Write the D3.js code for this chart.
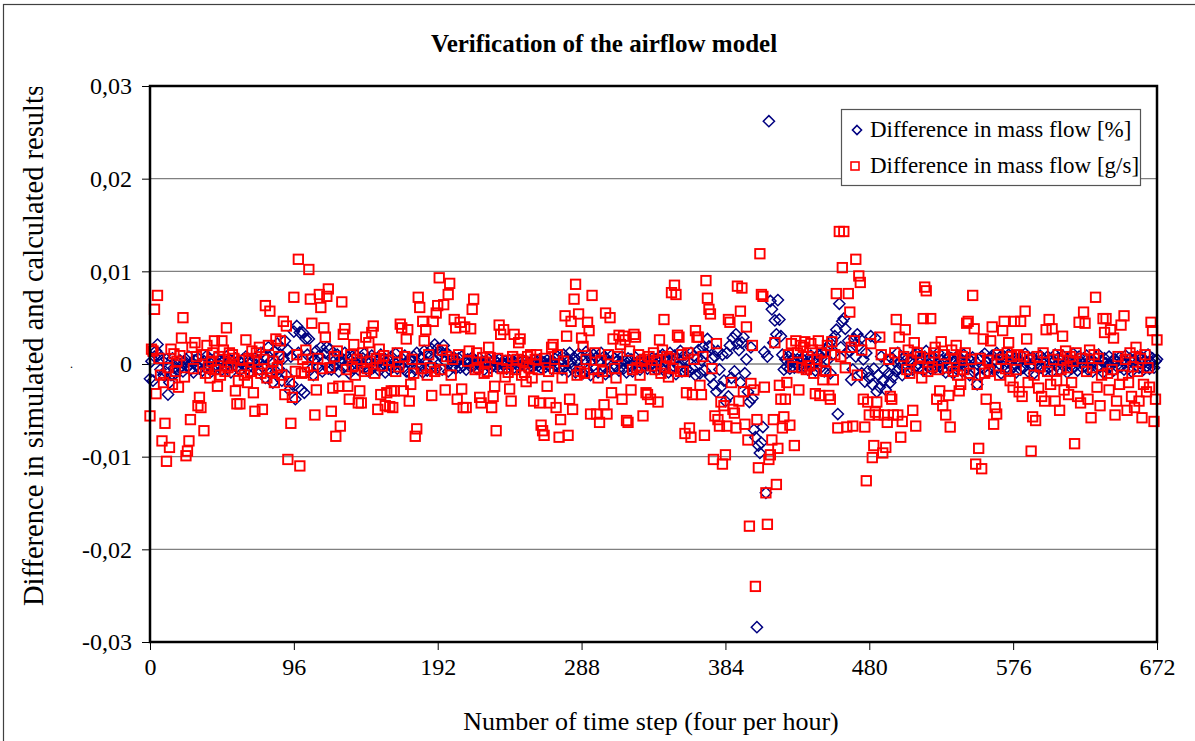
<!DOCTYPE html>
<html>
<head>
<meta charset="utf-8">
<script src="https://cdn.jsdelivr.net/npm/d3@7"></script>
<style>
    body { margin: 0; background: #fff; }
    text { font-family: "Liberation Serif", "Times New Roman", serif; fill: #000; }
</style>
</head>
<body>
<script>

// Värden avlästa ur bilden, i enheter av 0,0001 (ett värde per tidssteg 0..672)
const unit = 0.0001;

const diffPercent = [
    -16, 3, -18, 8, 14, 21, 10, -6, 4, -12, -8, 5, -33, -20, -12, 6, -4, -10, 2, -6, 4, -2, -8, 3,
    5, -3, 8, -6, 2, -9, 4, -2, 6, -5, 1, -7, 3, -4, 9, -1, 5, -8, 2, -3, 7, -5, 0, 4,
    -6, 3, -2, 8, -4, 5, -9, 2, -1, 6, -3, 4, -7, 1, 5, -2, 8, -5, 3, -8, 2, -4, 6, -1,
    4, -6, 12, -3, 8, -15, 6, 18, -10, 3, -20, 14, -8, 22, -5, 10, -18, 6, 25, -12, 15, -28, 8, -22,
    35, -38, 41, 12, 34, -28, 34, -31, 27, 10, 27, -6, 8, -12, 5, 14, -4, 9, 18, -8, 3, 12, 18, -5,
    16, -6, 8, -3, 5, 10, -8, 2, 6, -4, 12, -2, 7, -10, 3, 8, -5, 1, 9, -6, 4, -2, 6, 11,
    -3, 5, -8, 2, 9, -4, 6, -1, 3, -7, 10, -2, 5, -9, 1, 4, -6, 8, -3, 2, 11, -5, 3, -1,
    6, -4, 9, -8, 2, 5, -11, 3, 8, -6, 12, 1, -4, 7, -9, 14, 3, -7, 10, -2, 16, 6, 21, -5,
    17, 10, 14, -6, 20, 3, 12, -8, 9, 4, -3, 7, -5, 2, 6, -4, 8, -2, 3, -6, 5, 1, -3, 7,
    -2, 4, -5, 2, 6, -3, 1, -6, 3, -1, 5, -4, 2, -2, 4, -3, 1, 5, -4, 2, -1, 3, -5, 1,
    4, -2, 3, -4, 1, 5, -3, 2, -1, 4, -2, 3, -5, 1, 2, -3, 4, -1, 3, -2, 5, -4, 1, 2,
    -3, 4, -1, 2, -5, 3, 6, -2, 8, -4, 3, -6, 10, -3, 5, -8, 12, 2, -5, 7, -9, 4, 11, -6,
    8, -10, 5, 13, -7, 9, -12, 4, 10, -5, 7, -9, 3, 12, -6, 8, -11, 5, 2, -8, 9, -4, 6, -3,
    4, -7, 2, 8, -5, 3, -9, 6, -2, 5, -8, 1, 7, -4, 3, -6, 2, 5, -3, 1, -5, 4, -2, 6,
    -3, 5, -6, 2, 8, -4, 10, -7, 3, 6, -9, 12, -5, 4, 9, -11, 6, -3, 14, -8, 5, 10, -6, 3,
    -8, 12, -5, 9, -12, 6, 15, -10, 4, 18, -7, 11, 27, 19, -14, 6, -22, 8, -30, 14, -6, -25, 10, -18,
    -40, 12, -35, 20, -15, 28, -8, 32, 22, 15, -20, 23, 29, -10, 5, -30, -41, 18, -37, -71, -79, -284, -88, -96,
    -85, -68, 13, -139, 8, 262, 68, 59, 23, 47, 32, 69, 48, 30, 10, -6, 5, -3, 8, -5, 3, 6, -4, 2,
    5, -3, 2, 6, -4, 8, 1, -6, 4, 9, -2, 5, -7, 3, 10, -5, 6, 12, -8, 15, 4, 20, -10, 25,
    11, 30, 37, -54, 65, 18, 46, 49, 38, 12, 25, 14, -17, -6, 27, 8, 32, 20, 27, -10, 5, -19, 12, -8,
    -15, 30, -22, -5, 28, -30, -12, -25, 8, -18, -6, -28, 4, -10, -20, 6, -14, 3, -8, 12, -5, 2, -12, 7,
    -3, 5, -8, 4, 2, -6, 10, -2, 11, -4, 6, 3, -7, 8, 14, -3, 5, -5, 2, 7, -4, 1, 12, -2,
    4, -6, 2, -9, 5, 8, -3, 6, -10, 3, -5, 9, -2, 4, -8, 10, 2, -4, 6, -12, 3, 7, -9, -6,
    -22, 5, -13, 8, -5, 11, 2, -8, 6, -3, 9, -6, 4, 12, -4, 7, -10, 3, 8, -5, 2, 10, -7, 4,
    -3, 6, -9, 5, 2, -6, 8, -4, 11, 3, -8, 5, -2, 7, -10, 4, 1, -5, 9, -3, 6, -7, 2, 8,
    -4, 5, -8, 3, 10, -2, 6, -6, 4, 9, -3, 2, -9, 7, 1, -5, 11, -3, 4, -7, 8, 2, -4, 6,
    -2, 9, -6, 3, 5, -8, 2, 7, -4, 10, -3, 4, -9, 6, 1, -5, 8, -2, 3, -7, 5, 2, -4, 7,
    -3, 4, -6, 9, 2, -5, 6, -8, 3, 5, -2, 8, -4, 1, 7, -6, 3, -3, 10, -5, 2, 6, -4, 3,
    5
];

const diffGs = [
    -56, 16, 14, 59, -32, 74, 6, -12, -83, -20, -64, -105, -4, -90, 16, -22, 11, -8, 3, -25, 9, 28, 50, -14,
    -99, -94, -83, -60, 18, -5, 23, 8, -45, -36, -47, 10, -72, -10, 20, -3, -15, 3, 12, 25, -6, -24, 8, -12,
    25, 15, -8, 39, -4, 12, -2, 10, 6, -29, -43, -18, -43, -5, 4, -12, 26, -20, 6, -8, 14, -31, -51, 12,
    -6, 18, -10, -49, 5, 63, -15, 20, 57, -8, 3, -20, 27, -4, 8, 25, -12, 46, -33, 41, -103, -19, -64, -36,
    72, -8, 10, 113, -110, -10, 5, -9, 15, -3, 102, 70, 44, -12, -55, -28, 6, 75, 61, -5, 39, 29, 73, 81,
    -4, -51, -26, 8, -78, 14, -24, -67, 67, 32, 38, -6, -24, -38, 10, -3, 21, -12, 5, -42, -29, -42, 12, -8,
    29, -5, 23, 3, 34, 41, -10, 6, -49, 16, -33, -2, 9, -45, -31, 4, -46, -29, -47, -29, -8, 12, -3, 43,
    39, -29, 8, 27, 37, -40, -22, 5, -10, -78, -70, 72, 61, -5, 46, 25, 37, -12, 10, -4, -34, 46, -8, 55,
    63, 93, -6, 15, 64, -28, 8, 75, 87, -12, 5, 48, 39, -38, 10, 45, -27, -47, 40, -47, 3, 14, 38, 59,
    70, -6, 12, -4, -36, -42, 7, -10, 2, -8, 18, 7, -47, -35, -24, -72, 6, 42, 32, -5, 37, -14, 4, -9,
    -27, -40, 8, 32, -6, 5, 23, 27, -12, 3, -9, -19, 8, -4, 10, -15, -40, 5, 10, -6, -42, -66, -72, -77,
    6, -24, -8, -42, 18, 21, -5, -47, 10, -79, -60, -15, 3, 52, 30, -77, -38, 46, -49, 70, 86, -12, 54, -8,
    28, 19, -10, 5, 45, 36, -54, 74, -6, 12, -54, -15, -63, 4, -8, -44, 55, -54, 10, 50, -31, 27, -5, -15,
    8, 31, 21, -38, 30, 26, -61, -63, 14, -28, -6, 32, 29, -4, 10, -12, 3, -56, 5, -31, -33, 8, -38, -2,
    12, -6, 4, -41, 26, -10, 15, 48, -3, 8, -14, 6, 77, -5, 85, 75, 31, 29, -8, 10, -8, -75, -31, 12,
    -69, -79, -33, 5, 36, 29, 29, -23, -33, 8, -77, 90, 71, 59, 54, -5, -103, -56, 22, -60, -67, -41, -108, -45,
    -98, -67, 48, 45, -20, -49, -53, -69, 84, -40, 57, 82, -30, -65, 40, -82, -175, -21, 20, -28, -240, -60, -112, 119,
    75, 73, -25, -139, -173, -103, -98, -82, -60, 23, -130, -91, -23, -38, -69, -57, -38, -20, 10, -66, 22, -3, -88, 25,
    12, -28, 20, -4, 18, 24, -6, 8, -2, 22, 15, -10, -32, 5, 25, -34, 12, -17, 3, -8, 20, -34, -38, 24,
    -17, 10, 76, -69, 143, 8, 104, 143, -4, -68, 76, 56, 18, -67, 25, 113, -12, 95, 88, 15, -38, -68, -126, -41,
    -55, 22, -101, -88, -52, -41, -55, 29, 10, -96, -55, -90, -63, 5, -35, -38, -55, 12, 48, -55, 29, -79, -62, 8,
    37, -6, 15, -10, 4, -50, 23, -67, 12, -4, 8, -15, 49, 83, 79, -8, 6, 49, -3, 12, 18, -38, -6, -29,
    24, -45, 10, -55, -4, -34, -68, 15, -8, 6, 20, -12, -29, -22, 8, -6, 12, 44, 46, -10, 5, 74, 38, -108,
    -22, -91, 6, -113, 27, -10, -38, 4, -8, 25, 40, -65, -47, -54, 10, -12, 5, 36, 46, -5, 12, 23, -18, 8,
    -25, 46, -6, 10, -30, 46, -35, 8, 57, 27, -20, 5, -94, -57, -12, -61, 8, -26, -3, -35, 12, -40, 37, -8,
    48, -22, 38, 5, -40, -18, 10, -50, -6, 30, -28, 14, -4, -33, 8, -20, 3, -86, 12, -35, 45, -42, 6, 56,
    44, -8, -38, 15, -58, -4, 10, 72, -25, 6, -45, -12, 49, 34, 49, -10, -28, 37, -6, 28, -55, -40, 8, -22,
    42, -12, 52, 5, -50, -20, 12, -35, -3, -47, 18, -8, -40, 6, -58, -22, 10, -30, -4, -25, 45, 36, -62, -38,
    26
];

const yTicks = [0.03, 0.02, 0.01, 0, -0.01, -0.02, -0.03];
const yTickLabels = ["0,03", "0,02", "0,01", "0", "-0,01", "-0,02", "-0,03"];
const xTicks = [0, 96, 192, 288, 384, 480, 576, 672];
const seriesNames = ["Difference in mass flow [%]", "Difference in mass flow [g/s]"];

const width = 1195, height = 741;
const plot = {left: 150, right: 1157, top: 86, bottom: 642};
const serif = '"Liberation Serif", "Times New Roman", serif';

const svg = d3.select("body").append("svg")
    .attr("width", width)
    .attr("height", height);

// yttre ram
svg.append("rect")
    .attr("x", 3.5).attr("y", 4.5)
    .attr("width", 1300).attr("height", 900)
    .attr("fill", "#fff")
    .attr("stroke", "#404040")
    .attr("stroke-width", 1.2);

const x = d3.scaleLinear().domain([0, 672]).range([plot.left, plot.right]);
const y = d3.scaleLinear().domain([-0.03, 0.03]).range([plot.bottom, plot.top]);

// rutnät
svg.append("g")
    .selectAll("line")
    .data(yTicks.slice(1, -1))
    .enter()
    .append("line")
        .attr("x1", plot.left).attr("x2", plot.right)
        .attr("y1", d => y(d)).attr("y2", d => y(d))
        .attr("stroke", "#808080")
        .attr("stroke-width", 1.3);

// axlar
const yAxis = svg.append("g")
    .attr("transform", `translate(${plot.left},0)`)
    .call(d3.axisLeft(y)
        .tickValues(yTicks)
        .tickFormat((d, i) => yTickLabels[i])
        .tickSize(8)
        .tickPadding(10));

const xAxis = svg.append("g")
    .attr("transform", `translate(0,${plot.bottom})`)
    .call(d3.axisBottom(x)
        .tickValues(xTicks)
        .tickSize(8)
        .tickPadding(8));

[yAxis, xAxis].forEach(a => {
    a.select(".domain").remove();
    a.selectAll("line").attr("stroke", "#000").attr("stroke-width", 1);
    a.selectAll("text")
        .style("font-family", serif)
        .style("font-size", "24px")
        .attr("fill", "#000");
});

// punkter, först blå romber, sedan röda kvadrater ovanpå
svg.append("g")
    .selectAll("path")
    .data(diffPercent)
    .enter()
    .append("path")
        .attr("d", "M0,-5.6L5.6,0L0,5.6L-5.6,0Z")
        .attr("transform", (d, i) => `translate(${x(i)},${y(d * unit)})`)
        .attr("fill", "none")
        .attr("stroke", "#000080")
        .attr("stroke-width", 1.5);

svg.append("g")
    .selectAll("rect")
    .data(diffGs)
    .enter()
    .append("rect")
        .attr("x", (d, i) => x(i) - 4.7)
        .attr("y", d => y(d * unit) - 4.7)
        .attr("width", 9.4)
        .attr("height", 9.4)
        .attr("fill", "none")
        .attr("stroke", "#ff0000")
        .attr("stroke-width", 1.9);

// ram runt diagramytan
svg.append("rect")
    .attr("x", plot.left).attr("y", plot.top)
    .attr("width", plot.right - plot.left)
    .attr("height", plot.bottom - plot.top)
    .attr("fill", "none")
    .attr("stroke", "#000")
    .attr("stroke-width", 2.5);

// titel och axeltexter
svg.append("text")
    .attr("x", 604).attr("y", 52)
    .attr("text-anchor", "middle")
    .style("font-size", "25px")
    .style("font-weight", "bold")
    .text("Verification of the airflow model");

svg.append("text")
    .attr("x", 651).attr("y", 730)
    .attr("text-anchor", "middle")
    .style("font-size", "26px")
    .text("Number of time step (four per hour)");

// y-etiketten är avklippt upptill i originalet
svg.append("clipPath")
    .attr("id", "ylabelclip")
    .append("rect")
        .attr("x", 0).attr("y", 87)
        .attr("width", 70).attr("height", 600);

svg.append("g")
    .attr("clip-path", "url(#ylabelclip)")
    .append("text")
        .attr("transform", "translate(43,606) rotate(-90)")
        .attr("text-anchor", "start")
        .style("font-size", "28.5px")
        .text("Difference in simulated and calculated results");

svg.append("text")
    .attr("x", 70).attr("y", 368)
    .style("font-size", "12px")
    .text(".");

// förklaring
const legend = svg.append("g");

legend.append("rect")
    .attr("x", 841.5).attr("y", 109.5)
    .attr("width", 299).attr("height", 76)
    .attr("fill", "#fff")
    .attr("stroke", "#555")
    .attr("stroke-width", 1.2);

legend.append("path")
    .attr("d", "M0,-4.5L4.5,0L0,4.5L-4.5,0Z")
    .attr("transform", "translate(857,130)")
    .attr("fill", "none")
    .attr("stroke", "#000080")
    .attr("stroke-width", 1.6);

legend.append("rect")
    .attr("x", 851).attr("y", 162)
    .attr("width", 8).attr("height", 8)
    .attr("fill", "none")
    .attr("stroke", "#ff0000")
    .attr("stroke-width", 1.6);

legend.selectAll("text")
    .data(seriesNames)
    .enter()
    .append("text")
        .attr("x", 870)
        .attr("y", (d, i) => 137 + i * 36)
        .style("font-size", "23px")
        .text(d => d);

</script>
</body>
</html>
